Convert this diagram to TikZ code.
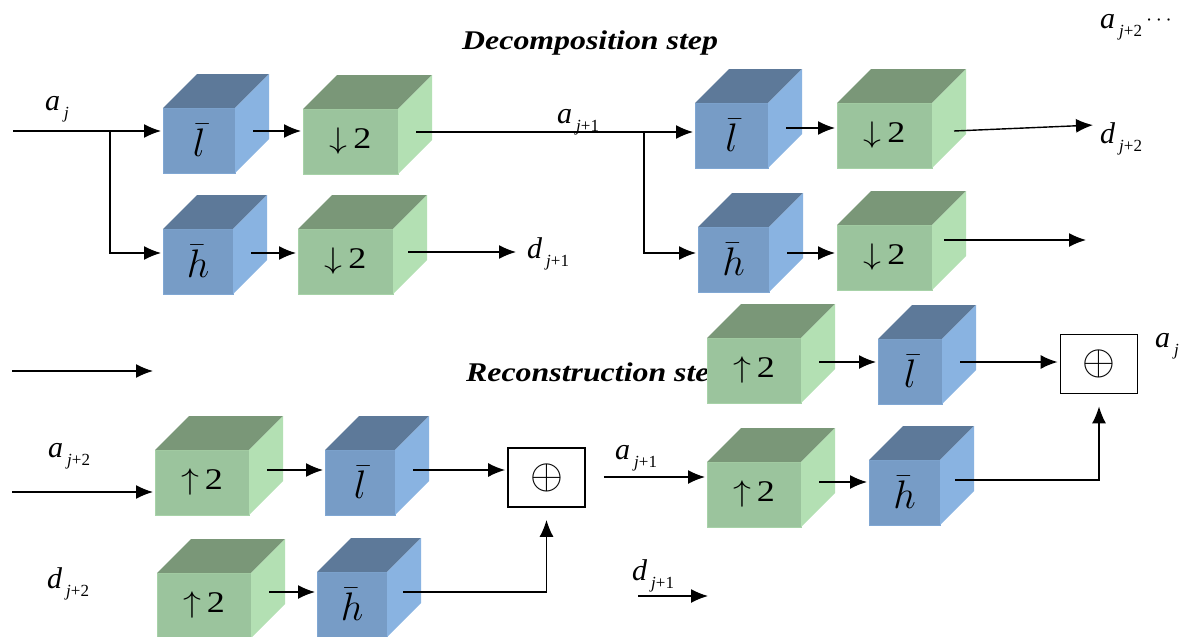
\documentclass[tikz,border=0pt]{standalone}
\usepackage{fontspec}
\setmainfont{Liberation Serif}
\usetikzlibrary{calc,arrows.meta,positioning}
\definecolor{bluefront}{HTML}{779CC6}
\definecolor{bluetop}{HTML}{5D7999}
\definecolor{blueside}{HTML}{89B3E1}
\definecolor{greenfront}{HTML}{9BC49D}
\definecolor{greentop}{HTML}{7A9778}
\definecolor{greenside}{HTML}{B3E0B3}
\newcommand\coef[3]{{\fontsize{30}{32}\selectfont\itshape #1}\kern4pt\raisebox{-8pt}{\fontsize{17}{18}\selectfont\textit{#2}#3}}
\newcommand\cubemath[2]{\scalebox{#1}{$#2$}}
\newcommand\rate[1]{\scalebox{1.2}[1]{\cubemath{1.2}{#1}\kern5pt{\fontsize{30}{32}\selectfont 2}}}
% one filter block drawn as a cube: name, x, y, width, colour, text
\newcommand\filtcube[6]{%
  \node[face, fill=#5front, draw=#5side!50!#5front, minimum width=#4pt, anchor=north west] (#1) at (#2,#3) {#6};
  \fill[#5top] (#1.north west) -- ++(34,-34) -- ($(#1.north east)+(34,-34)$) -- (#1.north east) -- cycle;
  \fill[#5side] (#1.north east) -- ++(34,-34) -- ($(#1.south east)+(34,-34)$) -- (#1.south east) -- cycle;
}
\newcommand\pipe[3]{\draw[flow] ($(#1.east |- 0,#3)+(18,0)$) -- (#2.west |- 0,#3);}
\tikzset{
    face/.style={rectangle, inner sep=0pt, outer sep=0pt, minimum height=65pt, line width=1pt, font=\fontsize{25}{26}\selectfont},
    flow/.style={-{Latex[length=17pt,width=14pt]}, line width=1.4pt, shorten >=2pt},
    sum/.style={draw, line width=1.8pt, inner sep=0pt, minimum width=77pt, minimum height=59pt, font=\fontsize{25}{26}\selectfont},
    title/.style={font=\fontsize{27}{30}\selectfont\bfseries\itshape, anchor=west, inner sep=0pt},
    lab/.style={anchor=base west, inner sep=0pt}
}
\begin{document}
\begin{tikzpicture}[x=1pt, y=-1pt]
  \useasboundingbox (0,0) rectangle (1194,637);
  \node[title] (dectitle) at (462,43) {\scalebox{1.18}[1]{Decomposition step}};
  \node[title] (rectitle) at (466,375) {\scalebox{1.18}[1]{Reconstruction step}};

  % decomposition
  \filtcube{Lt}{163}{108}{72}{blue}{\cubemath{1.6}{\bar{l}}}
  \filtcube{Dt}{303}{109}{95}{green}{\rate{\downarrow}}
  \filtcube{Hb}{163}{229}{70}{blue}{\cubemath{1.6}{\bar{h}}}
  \filtcube{Db}{298}{229}{95}{green}{\rate{\downarrow}}
  \filtcube{Lt2}{695}{103}{73}{blue}{\cubemath{1.6}{\bar{l}}}
  \filtcube{Dt2}{837}{103}{95}{green}{\rate{\downarrow}}
  \filtcube{Hb2}{698}{227}{71}{blue}{\cubemath{1.6}{\bar{h}}}
  \filtcube{Db2}{837}{225}{95}{green}{\rate{\downarrow}}

  % reconstruction
  \filtcube{U1}{155}{450}{94}{green}{\rate{\uparrow}}
  \filtcube{L1}{325}{450}{70}{blue}{\cubemath{1.6}{\bar{l}}}
  \filtcube{U2}{157}{573}{94}{green}{\rate{\uparrow}}
  \filtcube{H1}{317}{572}{70}{blue}{\cubemath{1.6}{\bar{h}}}
  \filtcube{U3}{707}{338}{94}{green}{\rate{\uparrow}}
  \filtcube{L2}{878}{339}{64}{blue}{\cubemath{1.6}{\bar{l}}}
  \filtcube{U4}{707}{462}{94}{green}{\rate{\uparrow}}
  \filtcube{H2}{869}{460}{71}{blue}{\cubemath{1.6}{\bar{h}}}
  \node[sum] (P1) at (546.5,477.5) {\cubemath{1.7}{\oplus}};
  \node[sum] (P2) at (1099,364) {\cubemath{1.7}{\oplus}};

  % connectors, decomposition
  \coordinate (ain) at (13,131);
  \coordinate (br1) at (110,131);
  \coordinate (br2) at (644,132);
  \coordinate (dend1) at (518,252);
  \coordinate (dend2) at (1095,125);
  \coordinate (aend2) at (1088,240);
  \draw[flow] (ain) -- (ain -| Lt.west);
  \draw[flow] (br1) |- (Hb.west |- 0,253);
  \pipe{Lt}{Dt}{131}
  \pipe{Dt}{Lt2}{132}
  \draw[flow] (br2) |- (Hb2.west |- 0,253);
  \pipe{Hb}{Db}{253}
  \draw[flow] ($(Db.east |- dend1)+(15,0)$) -- (dend1);
  \pipe{Lt2}{Dt2}{128}
  \pipe{Hb2}{Db2}{253}
  \draw[flow] ($(Dt2.east |- 0,131)+(22,0)$) -- (dend2);
  \draw[flow] ($(Db2.east |- aend2)+(12,0)$) -- (aend2);

  % connectors, reconstruction
  \coordinate (lone1) at (12,371);
  \coordinate (lone2) at (155,371);
  \coordinate (ain2) at (12,492);
  \coordinate (dlow1) at (638,596);
  \coordinate (dlow2) at (710,596);
  \draw[flow] (lone1) -- (lone2);
  \draw[flow] (ain2) -- (ain2 -| U1.west);
  \pipe{U1}{L1}{470}
  \pipe{L1}{P1}{470}
  \pipe{U2}{H1}{592}
  \draw[flow, shorten >=12pt] ($(H1.east |- 0,592)+(16,0)$) -| (P1.south);
  \pipe{P1}{U4}{477}
  \draw[flow] (dlow1) -- (dlow2);
  \pipe{U3}{L2}{362}
  \pipe{L2}{P2}{362}
  \pipe{U4}{H2}{482}
  \draw[flow, shorten >=12pt] ($(H2.east |- 0,480)+(15,0)$) -| (P2.south);

  % signal labels
  \node[lab] (laj) at (45,110) {\coef{a}{j}{}};
  \node[lab] (laj1) at (557,123) {\coef{a}{j}{+1}};
  \node[lab] (ldj1) at (527,258) {\coef{d}{j}{+1}};
  \node[lab] (ldj2) at (1100,143) {\coef{d}{j}{+2}};
  \node[lab] (laj2) at (1100,28) {\coef{a}{j}{+2}\kern4pt\raisebox{3pt}{\cubemath{2.2}{\cdots}}};
  \node[lab] (raj) at (1155,347) {\coef{a}{j}{}};
  \node[lab] (raj2) at (48,457) {\coef{a}{j}{+2}};
  \node[lab] (rdj2) at (47,588) {\coef{d}{j}{+2}};
  \node[lab] (raj1) at (615,459) {\coef{a}{j}{+1}};
  \node[lab] (rdj1) at (632,580) {\coef{d}{j}{+1}};
\end{tikzpicture}
\end{document}
